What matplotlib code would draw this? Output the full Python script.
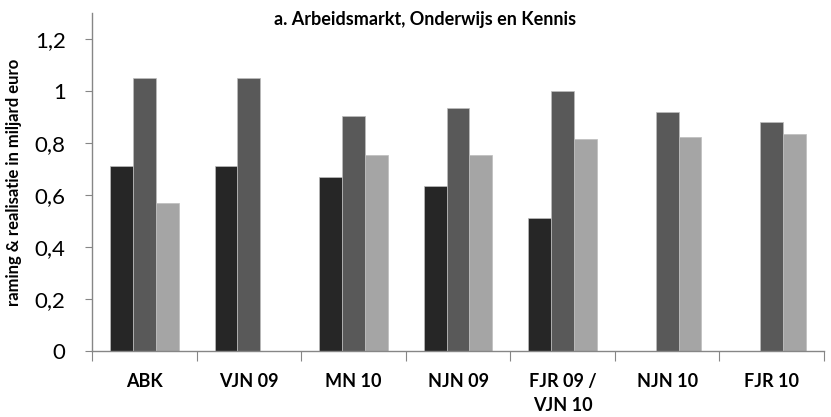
import numpy as np
import matplotlib
matplotlib.use("Agg")
import matplotlib.pyplot as plt

categories = ["ABK", "VJN 09", "MN 10", "NJN 09", "FJR 09 /\nVJN 10", "NJN 10", "FJR 10"]
series_dark = [0.71, 0.71, 0.67, 0.635, 0.51, np.nan, np.nan]
series_mid = [1.05, 1.05, 0.905, 0.935, 1.0, 0.92, 0.88]
series_light = [0.57, np.nan, 0.755, 0.755, 0.815, 0.825, 0.835]
yticks = [0, 0.2, 0.4, 0.6, 0.8, 1.0, 1.2]
ytick_labels = ["0", "0,2", "0,4", "0,6", "0,8", "1", "1,2"]

plt.rcParams['font.family'] = ['Lato', 'DejaVu Sans']

fig = plt.figure(figsize=(8.31, 4.17), dpi=100)
ax = fig.add_axes([92/831, 66/417, (824-92)/831, (351-13)/417])

x = np.arange(len(categories))
w = 0.219
cols = ['#262626', '#595959', '#a5a5a5']
for i, (vals, c) in enumerate(zip([series_dark, series_mid, series_light], cols)):
    ax.bar(x + (i - 1) * w, vals, width=w, color=c, edgecolor='#bdbdbd', linewidth=0.5, zorder=2)

ax.set_xlim(-0.5, 6.31)
ax.set_ylim(0, 1.3)
ax.set_yticks(yticks)
ax.set_yticklabels(ytick_labels, fontsize=16)
ax.set_xticks(np.arange(len(categories) + 1) - 0.5, minor=False)
ax.set_xticklabels([])
ax.set_xticks(x, minor=True)
ax.set_xticklabels(categories, minor=True, fontsize=13, fontweight='bold', linespacing=1.45, va='top')
ax.tick_params(axis='x', which='minor', length=0, pad=16)
ax.tick_params(axis='x', which='major', length=7, color='#868686', direction='out')
ax.tick_params(axis='y', length=5, color='#868686', direction='out', pad=14)

for s in ['top', 'right']:
    ax.spines[s].set_visible(False)
for s in ['left', 'bottom']:
    ax.spines[s].set_color('#868686')
    ax.spines[s].set_linewidth(1)

fig.text(14/831, 1 - 182/417, "raming & realisatie in miljard euro", rotation=90,
         fontsize=12, fontweight='bold', ha='center', va='center')
fig.text(425/831, 1 - 20/417, "a. Arbeidsmarkt, Onderwijs en Kennis",
         fontsize=13, fontweight='bold', ha='center', va='center')

fig.savefig("out.png", dpi=100)
